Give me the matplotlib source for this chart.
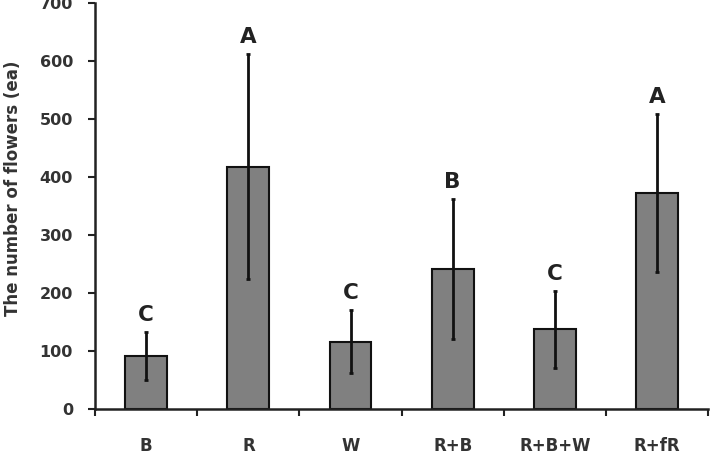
import numpy as np
import matplotlib
matplotlib.use("Agg")
import matplotlib.pyplot as plt

treatments = ['B', 'R', 'W', 'R+B', 'R+B+W', 'R+fR']
flowers = [91, 417, 116, 241, 137, 372]
err = [41, 194, 54, 121, 66, 136]
groups = ['C', 'A', 'C', 'B', 'C', 'A']

plt.rcParams['font.family'] = 'DejaVu Sans'
plt.rcParams['font.weight'] = 'bold'

fig = plt.figure(figsize=(7.21, 4.62), dpi=100)
ax = fig.add_axes([0.132, 0.115, 0.85, 0.879])

x = np.arange(len(treatments))
ax.bar(x, flowers, width=0.41, color='#808080', edgecolor='#111111', linewidth=1.5, zorder=2)
ax.errorbar(x, flowers, yerr=err, fmt='none', ecolor='#111111', elinewidth=2, capsize=1.5, capthick=2, zorder=3)

for xi, v, e, g in zip(x, flowers, err, groups):
    ax.annotate(g, (xi, v + e), xytext=(0, 5), textcoords='offset points',
                ha='center', va='bottom', fontsize=15.5, fontweight='bold', color='#222222')

ax.set_xlim(-0.5, 5.5)
ax.set_ylim(0, 700)
ax.set_yticks(range(0, 701, 100))

# boundary ticks without labels, names at the centers
ax.set_xticks(np.arange(-0.5, 6, 1))
ax.set_xticklabels([])
ax.set_xticks(x, minor=True)
ax.set_xticklabels(treatments, minor=True)
ax.tick_params(axis='x', which='major', direction='out', length=5, width=1.5, color='#222222')
ax.tick_params(axis='x', which='minor', length=0, pad=20, labelsize=12, labelcolor='#333333')
ax.tick_params(axis='y', direction='out', length=5, width=1.5, color='#222222', pad=11,
               labelsize=11.5, labelcolor='#333333')

for s in ['top', 'right']:
    ax.spines[s].set_visible(False)
for s in ['left', 'bottom']:
    ax.spines[s].set_linewidth(1.8)
    ax.spines[s].set_color('#222222')

ax.set_ylabel('The number of flowers (ea)', fontsize=12, fontweight='bold', color='#333333')
ax.yaxis.set_label_coords(-0.119, 0.544)

fig.savefig('out.png', dpi=100)
